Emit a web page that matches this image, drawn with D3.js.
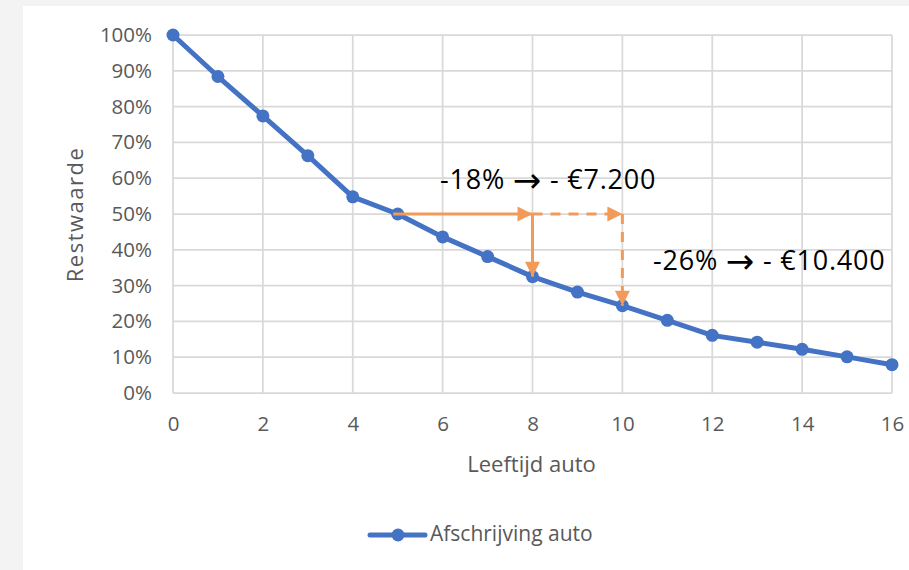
<!DOCTYPE html>
<html><head><meta charset="utf-8">
<script src="https://cdn.jsdelivr.net/npm/d3@7"></script>
<style>
html,body{margin:0;padding:0;background:#f3f3f3;}
svg{display:block;}
text{font-family:"Open Sans","Noto Sans",sans-serif;}
</style></head>
<body><svg id="c" width="909" height="570"></svg>
<script>
const years = [0,1,2,3,4,5,6,7,8,9,10,11,12,13,14,15,16];
const restwaarde = [1.00,0.884,0.774,0.663,0.548,0.50,0.436,0.381,0.325,0.282,0.244,0.203,0.161,0.142,0.122,0.101,0.079];
const xTicks = [0,2,4,6,8,10,12,14,16];
const yTicks = [0,0.1,0.2,0.3,0.4,0.5,0.6,0.7,0.8,0.9,1.0];
const seriesName = "Afschrijving auto";
const xTitle = "Leeftijd auto";
const yTitle = "Restwaarde";
// annotation arrows: [x1,y1,x2,y2,dashed]
const arrows = [
  [4.9,0.50,8,0.50,false],
  [8,0.50,8,0.325,false],
  [8,0.50,10,0.50,true],
  [10,0.50,10,0.244,true]
];
const notes = [
  {x:5.94, y:0.588, pre:"-18% ", post:" - \u20AC7.200"},
  {x:10.68, y:0.363, pre:"-26% ", post:" - \u20AC10.400"}
];

const svg = d3.select("#c");
svg.append("rect").attr("x",23).attr("y",6).attr("width",886).attr("height",564).attr("fill","#ffffff");

const m = {l:173, t:35, w:719, h:358};
const x = d3.scaleLinear().domain([0,16]).range([m.l, m.l+m.w]);
const y = d3.scaleLinear().domain([0,1]).range([m.t+m.h, m.t]);

const grid = svg.append("g").attr("stroke","#d9d9d9").attr("stroke-width",1.75);
grid.selectAll("line.h").data(yTicks).join("line")
  .attr("x1",x(0)).attr("x2",x(16)).attr("y1",d=>y(d)).attr("y2",d=>y(d));
grid.selectAll("line.v").data(xTicks).join("line")
  .attr("y1",y(0)).attr("y2",y(1)).attr("x1",d=>x(d)).attr("x2",d=>x(d));

const yAxis = d3.axisLeft(y).tickValues(yTicks).tickFormat(d3.format(".0%")).tickSize(0).tickPadding(21);
const ga = svg.append("g").attr("transform",`translate(${m.l},0)`).call(yAxis);
ga.select(".domain").remove();
ga.selectAll("text").attr("fill","#595959").style("font-size","20.5px");

const xAxis = d3.axisBottom(x).tickValues(xTicks).tickFormat(d3.format("d")).tickSize(0).tickPadding(23);
const gx = svg.append("g").attr("transform",`translate(0,${m.t+m.h})`).call(xAxis);
gx.select(".domain").remove();
gx.selectAll("text").attr("fill","#595959").style("font-size","20.5px");

svg.append("text").attr("transform",`translate(83,214.5) rotate(-90)`)
  .attr("text-anchor","middle").attr("fill","#595959").style("font-size","22px")
  .style("letter-spacing","1.5px").text(yTitle);
svg.append("text").attr("x",x(8)-1).attr("y",472)
  .attr("text-anchor","middle").attr("fill","#595959").style("font-size","22px").text(xTitle);

const blue = "#4472c4";
const line = d3.line().x((d,i)=>x(years[i])).y(d=>y(d));
svg.append("path").datum(restwaarde).attr("d",line)
  .attr("fill","none").attr("stroke",blue).attr("stroke-width",5).attr("stroke-linejoin","round");
svg.selectAll("circle.pt").data(restwaarde).join("circle")
  .attr("cx",(d,i)=>x(years[i])).attr("cy",d=>y(d)).attr("r",6.5).attr("fill",blue);

// arrows
const orange = "#f19a5a";
svg.append("defs").append("marker").attr("id","ah").attr("viewBox","0 0 10 10")
  .attr("refX",10).attr("refY",5).attr("markerWidth",16).attr("markerHeight",15)
  .attr("markerUnits","userSpaceOnUse").attr("orient","auto")
  .append("path").attr("d","M0,0 L10,5 L0,10 Z").attr("fill",orange);
svg.selectAll("line.arr").data(arrows).join("line")
  .attr("x1",d=>x(d[0])).attr("y1",d=>y(d[1])).attr("x2",d=>x(d[2])).attr("y2",d=>y(d[3]))
  .attr("stroke",orange).attr("stroke-width",3)
  .attr("stroke-dasharray",d=>d[4]?"10,8":null)
  .attr("marker-end","url(#ah)");

const nt = svg.selectAll("text.note").data(notes).join("text")
  .attr("x",d=>x(d.x)).attr("y",d=>y(d.y)).attr("dominant-baseline","middle")
  .attr("fill","#000").style("font-size","27px").style("letter-spacing","0.8px");
nt.append("tspan").text(d=>d.pre);
nt.append("tspan").style("font-family","'DejaVu Sans'")
  .style("font-size","34px").text("\u2192");
nt.append("tspan").text(d=>d.post);

// legend
const lg = svg.append("g");
lg.append("line").attr("x1",370).attr("x2",425).attr("y1",535).attr("y2",535)
  .attr("stroke",blue).attr("stroke-width",5).attr("stroke-linecap","round");
lg.append("circle").attr("cx",398).attr("cy",535).attr("r",6.5).attr("fill",blue);
lg.append("text").attr("x",430).attr("y",535).attr("dominant-baseline","middle")
  .attr("fill","#595959").style("font-size","21px").text(seriesName);
</script></body></html>
